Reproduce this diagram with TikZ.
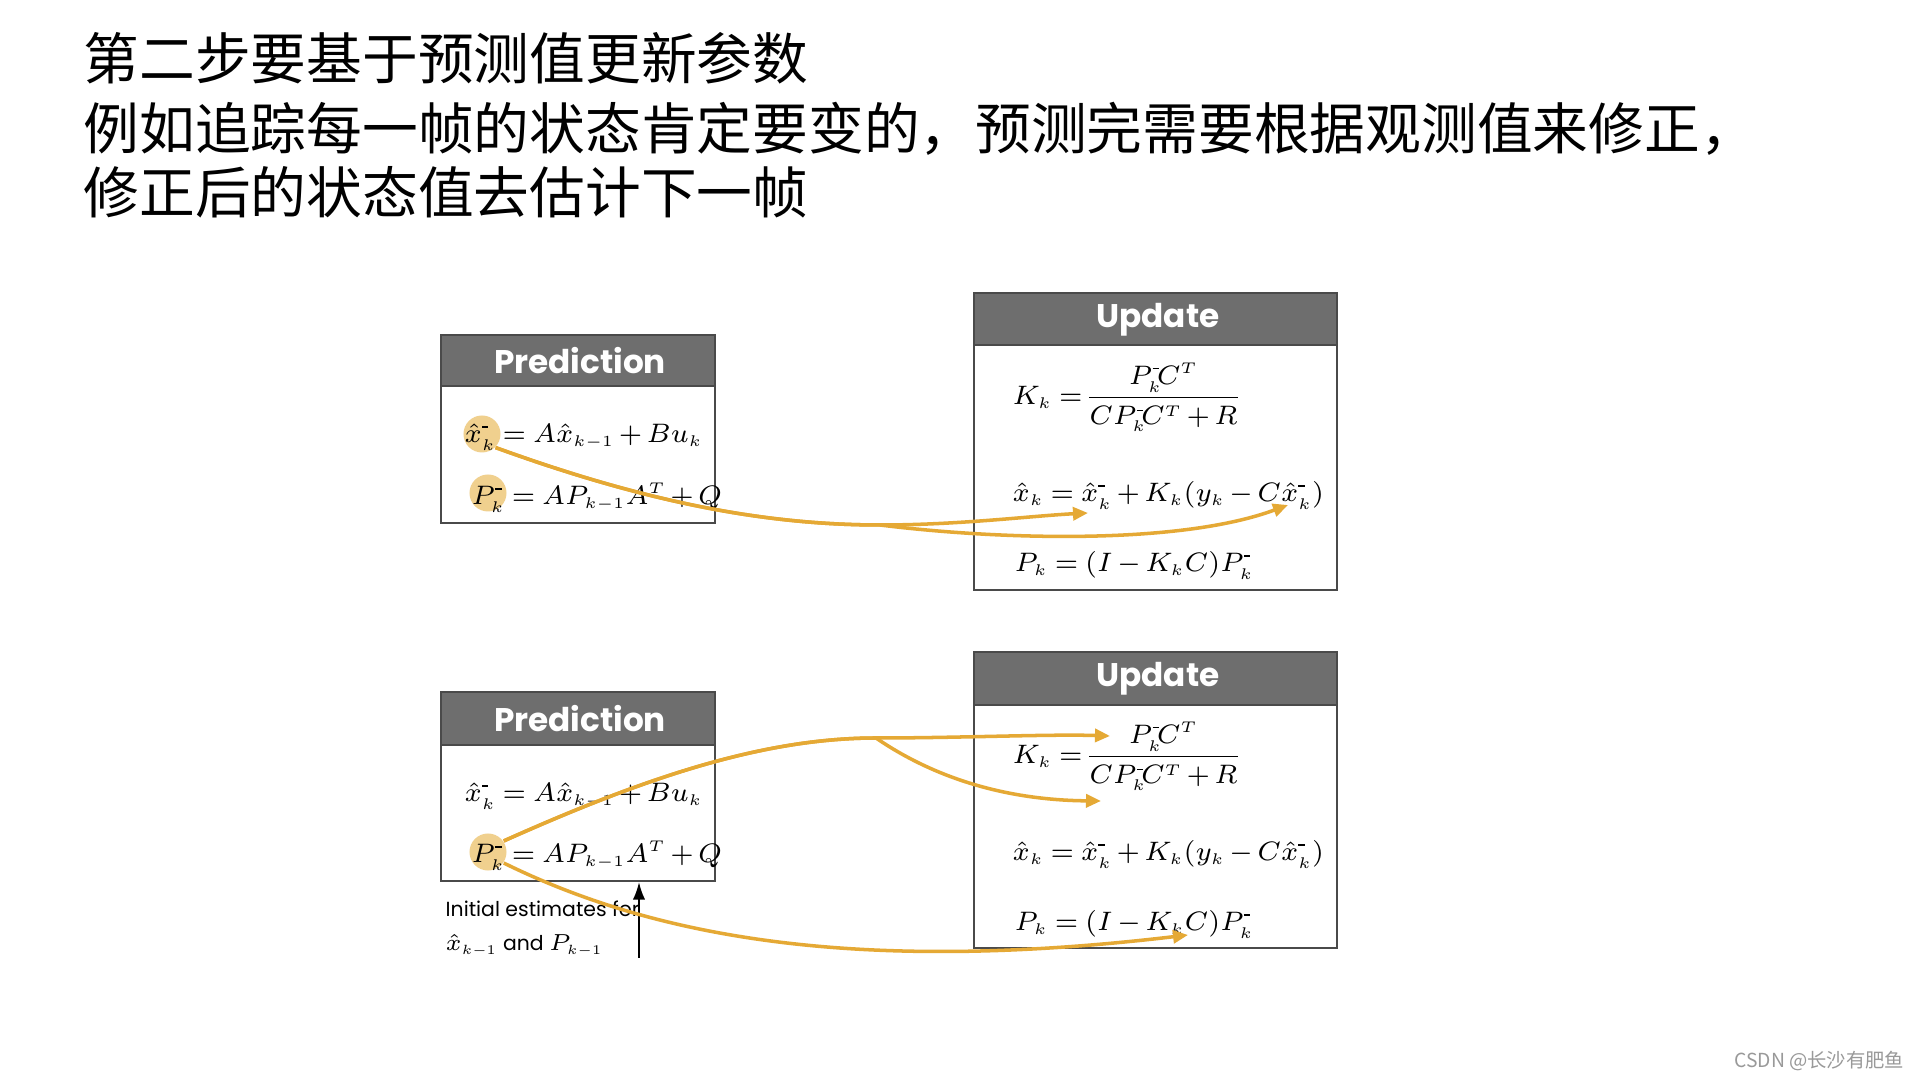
\documentclass[tikz,border=0pt]{standalone}
\usepackage{fix-cm}
\usepackage{fontspec}
\usetikzlibrary{arrows.meta}
\newfontfamily\cjkfont{Noto Sans CJK SC}
\newfontfamily\hdfont{Poppins}
\DeclareMathSizes{7.4}{7.6}{4.4}{3.6}
\DeclareMathSizes{5.8}{6.6}{3.8}{3.2}
\thickmuskip=4mu\relax
\medmuskip=2.5mu\relax
\nulldelimiterspace=0pt\relax
\newcommand{\mn}{\rule[0.35ex]{0.24em}{0.35pt}}
\newcommand{\Pm}{P_k^{\mn}}
\newcommand{\xm}{\hat{x}_k^{\mn}}
\definecolor{hdgray}{HTML}{6E6E6E}
\definecolor{bdgray}{HTML}{4A4A4A}
\definecolor{flowc}{HTML}{E5A935}
\definecolor{hilite}{HTML}{F0D08E}
\begin{document}
\begin{tikzpicture}[x=0.01cm,y=-0.01cm,
  panel/.style={draw=bdgray,line width=0.7pt},
  hdtext/.style={text=white,font=\hdfont\bfseries\fontsize{9.3}{10}\selectfont,inner sep=0},
  eq/.style={font=\fontsize{7.4}{9}\selectfont,inner sep=0,anchor=base west},
  eqk/.style={eq,anchor=west},
  hl/.style={circle,fill=hilite,minimum size=0.37cm,inner sep=0},
  flow/.style={draw=flowc,line width=1pt,-{Triangle[length=0.15cm,width=0.13cm]}},
  init/.style={font=\hdfont\fontsize{5.8}{7}\selectfont,anchor=base west,inner sep=0},
  title/.style={font=\cjkfont\fontsize{15.85}{18}\selectfont,anchor=base west,inner sep=0},
]
\useasboundingbox (0,0) rectangle (1920,1080);
\fill[white] (0,0) rectangle (1920,1080);

% title
\node[title] (l1) at (83,80) {第二步要基于预测值更新参数};
\node[title] (l2) at (83,150) {例如追踪每一帧的状态肯定要变的，预测完需要根据观测值来修正，};
\node[title] (l3) at (83,214) {修正后的状态值去估计下一帧};

% ---------- top row ----------
\fill[hdgray] (441,335) rectangle (715,386);
\draw[panel] (441,335) rectangle (715,523);
\draw[panel] (441,386) -- (715,386);
\node[hdtext] (hp1) at (580,361) {Prediction};

\fill[hdgray] (974,293) rectangle (1337,345);
\draw[panel] (974,293) rectangle (1337,590);
\draw[panel] (974,345) -- (1337,345);
\node[hdtext] (hu1) at (1158,320) {Update};

\node[hl] (c1) at (482,434) {};
\node[hl] (c2) at (488,493) {};
\node[eq] (pe1) at (464,443) {$\xm = A\hat{x}_{k-1} + Bu_k$};
\node[eq] (pe2) at (471,505) {$\Pm = AP_{k-1}A^T + Q$};

\node[eqk] (ue1) at (1012,397) {$\displaystyle K_k = \frac{\Pm\mkern-3mu C^T}{\medmuskip=1mu C\Pm\mkern-3mu C^T + R}$};
\node[eq] (ue2) at (1012,502) {$\hat{x}_k = \xm + K_k(y_k - C\xm)$};
\node[eq] (ue3) at (1014,572) {$P_k = (I - K_kC)\Pm$};

\coordinate (t1) at (1088,513);
\coordinate (t2) at (1288,505);
\draw[flow] (c1.-45) .. controls (640,500) and (760,525) .. (880,525)
  .. controls (960,525) and (1030,516) .. (t1);
\draw[flow] (c1.-45) .. controls (640,500) and (760,525) .. (880,525)
  .. controls (1000,540) and (1180,545) .. (t2);

% ---------- bottom row ----------
\fill[hdgray] (441,692) rectangle (715,745);
\draw[panel] (441,692) rectangle (715,881);
\draw[panel] (441,745) -- (715,745);
\node[hdtext] (hp2) at (580,719) {Prediction};

\fill[hdgray] (974,652) rectangle (1337,705);
\draw[panel] (974,652) rectangle (1337,948);
\draw[panel] (974,705) -- (1337,705);
\node[hdtext] (hu2) at (1158,679) {Update};

\node[hl] (c3) at (488,852) {};
\node[eq] (pe3) at (464,802) {$\xm = A\hat{x}_{k-1} + Bu_k$};
\node[eq] (pe4) at (471,863) {$\Pm = AP_{k-1}A^T + Q$};

\node[eqk] (ue4) at (1012,756) {$\displaystyle K_k = \frac{\Pm\mkern-3mu C^T}{\medmuskip=1mu C\Pm\mkern-3mu C^T + R}$};
\node[eq] (ue5) at (1012,861) {$\hat{x}_k = \xm + K_k(y_k - C\xm)$};
\node[eq] (ue6) at (1014,931) {$P_k = (I - K_kC)\Pm$};

\node[init] (i1) at (445,917) {Initial estimates for};
\node[init] (i2) at (445,951) {$\hat{x}_{k-1}$ and $P_{k-1}$};
\coordinate (ib) at (639,958);
\coordinate (it) at (639,882);
\draw[line width=0.6pt,-{Latex[length=5pt,width=3.5pt]}] (ib) -- (it);

\coordinate (b1) at (1110,736);
\coordinate (b2) at (1101,801);
\coordinate (b3) at (1188,935);
\draw[flow] (c3.35) .. controls (640,780) and (760,738) .. (876,738)
  .. controls (960,738) and (1050,734) .. (b1);
\draw[flow] (c3.35) .. controls (640,780) and (760,738) .. (876,738)
  .. controls (930,775) and (1000,800) .. (b2);
\draw[flow] (c3.-35) .. controls (650,935) and (850,975) .. (b3);

% watermark
\node[anchor=base east,font=\cjkfont\fontsize{5.5}{6}\selectfont,text=black!40,inner sep=0] (wm) at (1905,1068) {CSDN @长沙有肥鱼};
\end{tikzpicture}
\end{document}
